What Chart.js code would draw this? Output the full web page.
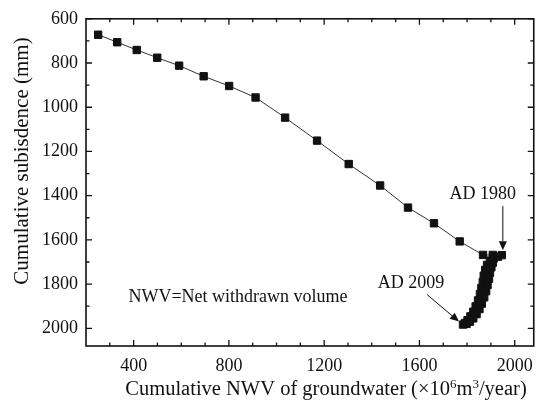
<!DOCTYPE html>
<html>
<head>
<meta charset="utf-8">
<script src="https://cdn.jsdelivr.net/npm/chart.js@4.4.1/dist/chart.umd.min.js"></script>
<style>
  html, body { margin: 0; padding: 0; background: #fff; }
  canvas { display: block; }
</style>
</head>
<body>
<canvas id="chart" width="542" height="414"></canvas>
<script>
// cumulative NWV (x) and cumulative subsidence (y), in time order up to AD 2009
const nwv = [251, 331, 413, 499, 591, 694, 801, 912, 1036, 1170, 1303, 1435, 1552, 1661, 1769, 1867, 1908, 1946,
  1930, 1912, 1896, 1908, 1884, 1902, 1876, 1896, 1870, 1892, 1866, 1886, 1860, 1880, 1854, 1872,
  1846, 1862, 1836, 1852, 1826, 1840, 1814, 1826, 1802, 1812, 1792, 1798, 1783];
const subsidence = [672, 706, 741, 776, 812, 860, 904, 956, 1047, 1151, 1257, 1354, 1454, 1525, 1607, 1668, 1668, 1669,
  1676, 1684, 1694, 1703, 1713, 1724, 1736, 1749, 1762, 1776, 1790, 1804, 1818, 1832, 1846, 1860,
  1874, 1888, 1901, 1913, 1925, 1936, 1946, 1955, 1963, 1970, 1976, 1980, 1983];

const xTicks = [400, 800, 1200, 1600, 2000];
const xMinorTicks = [300, 500, 600, 700, 900, 1000, 1100, 1300, 1400, 1500, 1700, 1800, 1900];
const yTicks = [600, 800, 1000, 1200, 1400, 1600, 1800, 2000];
const yMinorTicks = [700, 900, 1100, 1300, 1500, 1700, 1900];

const idx1980 = 17;
const idx2009 = nwv.length - 1;

const FONT = "'Liberation Serif', 'Times New Roman', serif";
Chart.defaults.font.family = FONT;

function arrow(ctx, x1, y1, x2, y2) {
  const a = Math.atan2(y2 - y1, x2 - x1);
  const len = 9, hw = 4;
  ctx.beginPath();
  ctx.moveTo(x1, y1);
  ctx.lineTo(x2 - Math.cos(a) * len, y2 - Math.sin(a) * len);
  ctx.stroke();
  ctx.beginPath();
  ctx.moveTo(x2, y2);
  ctx.lineTo(x2 - Math.cos(a) * len - Math.sin(a) * hw, y2 - Math.sin(a) * len + Math.cos(a) * hw);
  ctx.lineTo(x2 - Math.cos(a) * len + Math.sin(a) * hw, y2 - Math.sin(a) * len - Math.cos(a) * hw);
  ctx.closePath();
  ctx.fill();
}

const decorations = {
  id: 'decorations',
  afterDraw(chart) {
    const ctx = chart.ctx;
    const area = chart.chartArea;
    const xs = chart.scales.x, ys = chart.scales.y;
    ctx.save();
    ctx.strokeStyle = '#111';
    ctx.fillStyle = '#111';

    // frame
    ctx.lineWidth = 1.6;
    ctx.strokeRect(area.left, area.top, area.right - area.left, area.bottom - area.top);

    // inward ticks on all four sides
    ctx.lineWidth = 1.3;
    ctx.beginPath();
    const xt = (v, len) => {
      const p = xs.getPixelForValue(v);
      ctx.moveTo(p, area.bottom); ctx.lineTo(p, area.bottom - len);
      ctx.moveTo(p, area.top); ctx.lineTo(p, area.top + len);
    };
    const yt = (v, len) => {
      const p = ys.getPixelForValue(v);
      ctx.moveTo(area.left, p); ctx.lineTo(area.left + len, p);
      ctx.moveTo(area.right, p); ctx.lineTo(area.right - len, p);
    };
    xTicks.forEach(v => xt(v, 6));
    xMinorTicks.forEach(v => xt(v, 3.5));
    yTicks.forEach(v => yt(v, 6));
    yMinorTicks.forEach(v => yt(v, 3.5));
    ctx.stroke();

    // axis titles
    ctx.font = '21px ' + FONT;
    ctx.textBaseline = 'middle';
    ctx.textAlign = 'center';
    ctx.save();
    ctx.translate(22, 161);
    ctx.rotate(-Math.PI / 2);
    ctx.fillText('Cumulative subisdence (mm)', 0, 0);
    ctx.restore();

    const parts = [
      ['Cumulative NWV of groundwater (\u00d710', false],
      ['6', true],
      ['m', false],
      ['3', true],
      ['/year)', false]
    ];
    const big = '20.5px ' + FONT, small = '13px ' + FONT;
    let total = 0;
    parts.forEach(([t, sup]) => { ctx.font = sup ? small : big; total += ctx.measureText(t).width; });
    let x = 326 - total / 2;
    ctx.textAlign = 'left';
    ctx.textBaseline = 'alphabetic';
    parts.forEach(([t, sup]) => {
      ctx.font = sup ? small : big;
      ctx.fillText(t, x, sup ? 388 : 395);
      x += ctx.measureText(t).width;
    });

    // annotations
    ctx.font = '18px ' + FONT;
    ctx.textBaseline = 'middle';
    ctx.textAlign = 'center';
    ctx.lineWidth = 1;
    const p80x = xs.getPixelForValue(nwv[idx1980]), p80y = ys.getPixelForValue(subsidence[idx1980]);
    ctx.fillText('AD 1980', p80x - 19, p80y - 61);
    arrow(ctx, p80x + 1, p80y - 49, p80x + 1, p80y - 5);

    const p09x = xs.getPixelForValue(nwv[idx2009]), p09y = ys.getPixelForValue(subsidence[idx2009]);
    ctx.fillText('AD 2009', p09x - 52, p09y - 41);
    arrow(ctx, p09x - 36, p09y - 30, p09x - 4, p09y - 3);

    ctx.textAlign = 'left';
    ctx.fillText('NWV=Net withdrawn volume', xs.getPixelForValue(378), ys.getPixelForValue(1861));
    ctx.restore();
  }
};

new Chart(document.getElementById('chart'), {
  type: 'scatter',
  data: {
    datasets: [{
      data: nwv.map((v, i) => ({ x: v, y: subsidence[i] })),
      showLine: true,
      borderColor: '#333',
      borderWidth: 1,
      pointStyle: 'rect',
      pointRadius: 5.2,
      pointBackgroundColor: '#111',
      pointBorderColor: '#111',
      pointBorderWidth: 1
    }]
  },
  options: {
    responsive: false,
    animation: false,
    devicePixelRatio: 1,
    layout: { padding: { top: 15, right: 7, left: 0, bottom: 0 } },
    plugins: { legend: { display: false }, tooltip: { enabled: false } },
    scales: {
      x: {
        type: 'linear', min: 200, max: 2080,
        grid: { display: false, drawTicks: false },
        border: { display: false },
        ticks: { padding: 9, color: '#111', autoSkip: false, maxRotation: 0,
          font: { family: FONT, size: 18 }, callback: v => String(v) },
        afterBuildTicks: s => { s.ticks = xTicks.map(v => ({ value: v })); },
        afterFit: s => { s.height = 68; }
      },
      y: {
        type: 'linear', min: 600, max: 2080, reverse: true,
        grid: { display: false, drawTicks: false },
        border: { display: false },
        ticks: { padding: 8, color: '#111', autoSkip: false,
          font: { family: FONT, size: 18 }, callback: v => String(v) },
        afterBuildTicks: s => { s.ticks = yTicks.map(v => ({ value: v })); },
        afterFit: s => { s.width = 86; }
      }
    }
  },
  plugins: [decorations]
});
</script>
</body>
</html>
